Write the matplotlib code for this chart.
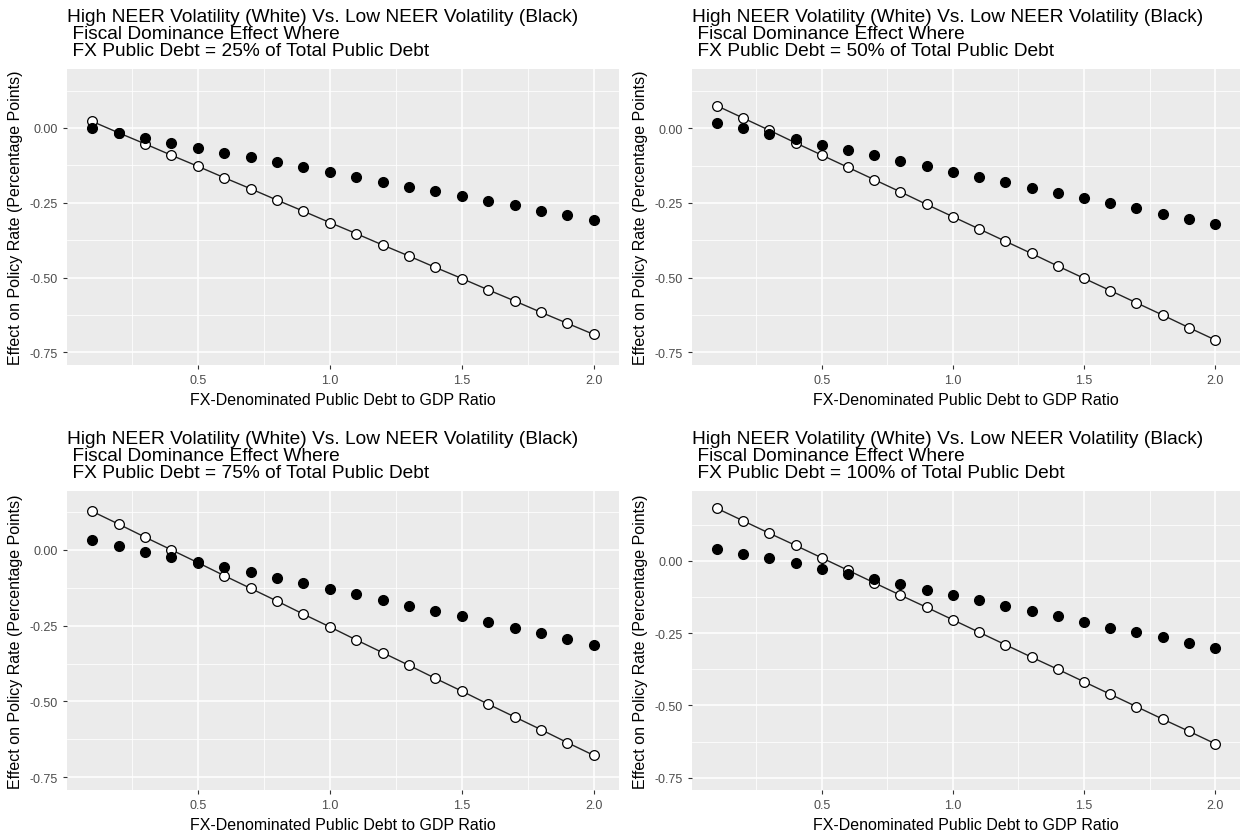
import matplotlib
matplotlib.use("Agg")
import matplotlib.pyplot as plt
import numpy as np

plt.rcParams['font.family'] = ['Liberation Sans', 'DejaVu Sans']

# FX-denominated public debt to GDP ratio
debt_ratio = [0.1, 0.2, 0.3, 0.4, 0.5, 0.6, 0.7, 0.8, 0.9, 1.0,
              1.1, 1.2, 1.3, 1.4, 1.5, 1.6, 1.7, 1.8, 1.9, 2.0]

fx_shares = ["25%", "50%", "75%", "100%"]

# high NEER volatility (white points)
high_vol_25 = [0.022, -0.016, -0.053, -0.091, -0.128, -0.166, -0.203, -0.241, -0.278, -0.316,
               -0.353, -0.391, -0.428, -0.466, -0.503, -0.541, -0.578, -0.616, -0.653, -0.690]
high_vol_50 = [0.075, 0.034, -0.007, -0.049, -0.090, -0.131, -0.172, -0.213, -0.255, -0.296,
               -0.337, -0.378, -0.419, -0.461, -0.502, -0.543, -0.584, -0.625, -0.667, -0.708]
high_vol_75 = [0.127, 0.085, 0.042, 0.000, -0.042, -0.085, -0.127, -0.169, -0.212, -0.254,
               -0.297, -0.339, -0.381, -0.424, -0.466, -0.509, -0.551, -0.593, -0.636, -0.678]
high_vol_100 = [0.181, 0.138, 0.095, 0.053, 0.010, -0.033, -0.076, -0.119, -0.161, -0.204,
                -0.247, -0.290, -0.333, -0.375, -0.418, -0.461, -0.504, -0.547, -0.589, -0.632]

# low NEER volatility (black points)
low_vol_25 = [0.000, -0.017, -0.032, -0.050, -0.067, -0.082, -0.098, -0.114, -0.132, -0.148,
              -0.163, -0.180, -0.196, -0.212, -0.227, -0.244, -0.259, -0.277, -0.292, -0.309]
low_vol_50 = [0.017, -0.001, -0.018, -0.036, -0.056, -0.074, -0.091, -0.110, -0.128, -0.146,
              -0.163, -0.181, -0.199, -0.217, -0.232, -0.249, -0.268, -0.286, -0.303, -0.321]
low_vol_75 = [0.031, 0.012, -0.006, -0.022, -0.039, -0.056, -0.074, -0.093, -0.111, -0.128,
              -0.146, -0.166, -0.184, -0.201, -0.219, -0.238, -0.257, -0.274, -0.295, -0.313]
low_vol_100 = [0.041, 0.024, 0.010, -0.008, -0.027, -0.045, -0.063, -0.081, -0.101, -0.117,
               -0.136, -0.155, -0.174, -0.192, -0.211, -0.231, -0.246, -0.265, -0.283, -0.301]

high_vol = [high_vol_25, high_vol_50, high_vol_75, high_vol_100]
low_vol = [low_vol_25, low_vol_50, low_vol_75, low_vol_100]
y_tops = [0.197, 0.198, 0.194, 0.241]

W, H = 1243, 837
fig = plt.figure(figsize=(W / 100, H / 100), dpi=100)

# panel boxes in pixels: left, right, top, bottom
boxes = [(67, 619, 70, 366), (692, 1240, 70, 366),
         (67, 619, 492, 791), (692, 1240, 492, 791)]

grey_txt = '#4D4D4D'

for i, (l, r, t, b) in enumerate(boxes):
    ax = fig.add_axes([l / W, 1 - b / H, (r - l) / W, (b - t) / H])
    ax.set_facecolor('#EBEBEB')
    for s in ax.spines.values():
        s.set_visible(False)

    ax.set_xlim(0.005, 2.095)
    ax.set_ylim(-0.792, y_tops[i])
    ax.set_xticks([0.5, 1.0, 1.5, 2.0])
    ax.set_xticklabels(['0.5', '1.0', '1.5', '2.0'])
    ax.set_yticks([0.0, -0.25, -0.5, -0.75])
    ax.set_yticklabels(['0.00', '-0.25', '-0.50', '-0.75'])
    ax.set_xticks([0.25, 0.75, 1.25, 1.75], minor=True)
    ax.set_yticks([0.125, -0.125, -0.375, -0.625], minor=True)
    ax.grid(which='major', color='white', linewidth=1.1)
    ax.grid(which='minor', color='white', linewidth=0.55)
    ax.set_axisbelow(True)
    ax.tick_params(which='major', length=3, width=0.8, color='#333333',
                   labelsize=9, labelcolor=grey_txt, pad=3.5)
    ax.tick_params(which='minor', length=0)

    ax.plot(debt_ratio, high_vol[i], color='#222222', linewidth=1.0, zorder=2)
    ax.plot(debt_ratio, high_vol[i], linestyle='none', marker='o', markersize=7,
            markerfacecolor='white', markeredgecolor='black', markeredgewidth=0.9, zorder=3)
    ax.plot(debt_ratio, low_vol[i], linestyle='none', marker='o', markersize=7,
            color='black', zorder=4)

    ax.set_xlabel("FX-Denominated Public Debt to GDP Ratio", fontsize=11.5, labelpad=4)
    ax.set_ylabel("Effect on Policy Rate (Percentage Points)", fontsize=11.5, labelpad=5)
    ax.set_title("High NEER Volatility (White) Vs. Low NEER Volatility (Black)\n"
                 " Fiscal Dominance Effect Where\n"
                 " FX Public Debt = " + fx_shares[i] + " of Total Public Debt",
                 loc='left', fontsize=13.8, linespacing=1.0, pad=10)

fig.savefig('out.png', dpi=100)
